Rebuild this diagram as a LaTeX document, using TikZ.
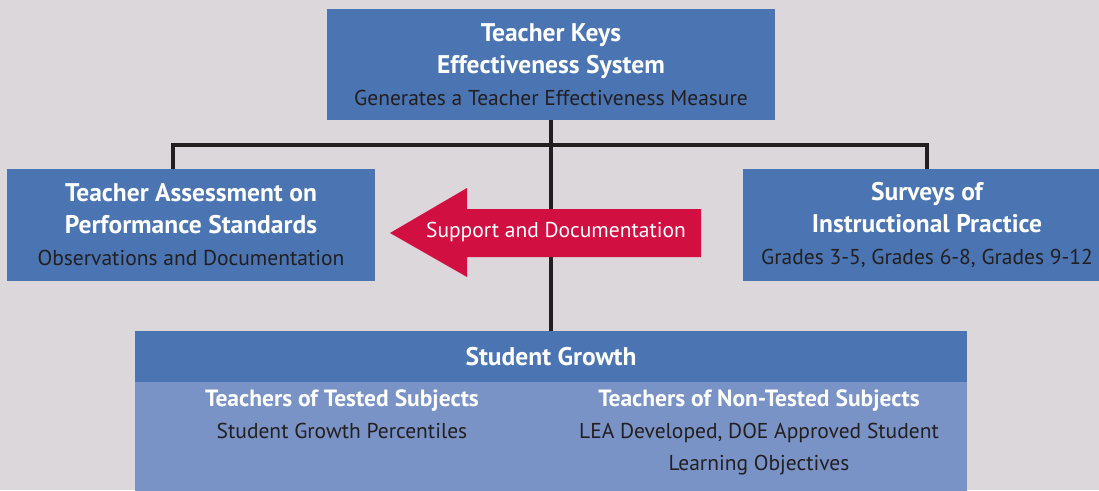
\documentclass[tikz,border=0pt]{standalone}
\usepackage{fontspec}
\setmainfont{PT Sans}
\usetikzlibrary{positioning}
\definecolor{bg}{HTML}{DCD7DA}
\definecolor{keyblue}{HTML}{4A74B2}
\definecolor{paleblue}{HTML}{7A93C6}
\definecolor{docred}{HTML}{D20F41}
\definecolor{ink}{HTML}{231F20}
\newcommand\boxhead[1]{{\color{white}\fontsize{25.5}{32}\selectfont\bfseries #1}}
\newcommand\colhead[1]{{\color{white}\fontsize{23.5}{32}\selectfont\bfseries #1}}

\begin{document}
\begin{tikzpicture}[x=1pt,y=-1pt,
    box/.style={fill=keyblue,inner sep=0pt,align=center,text=ink,
      font=\fontsize{21.5}{32}\selectfont},
    col/.style={inner sep=0pt,align=center,text=ink,anchor=north,
      font=\fontsize{21.5}{32}\selectfont},
    link/.style={ink,line width=4pt}]
    \useasboundingbox (0,0) rectangle (1099,490);
    \clip (0,0) rectangle (1099,490);
    \fill[bg] (0,0) rectangle (1099,490);

    % boxes
    \node[box,minimum width=448pt,minimum height=111pt] (keys) at (551,64.5)
      {\boxhead{Teacher Keys}\\\boxhead{Effectiveness System}\\Generates a Teacher Effectiveness Measure};
    \node[box,minimum width=368pt,minimum height=112pt] (taps) at (191,225)
      {\boxhead{Teacher Assessment on}\\\boxhead{Performance Standards}\\Observations and Documentation};
    \node[box,minimum width=368pt,minimum height=112pt] (surveys) at (927,225)
      {\boxhead{Surveys of}\\\boxhead{Instructional Practice}\\Grades 3-5, Grades 6-8, Grades 9-12};
    \node[box,minimum width=832pt,minimum height=51pt] (growth) at (551,356.5)
      {\boxhead{Student Growth}};
    \node[fill=paleblue,inner sep=0pt,minimum width=832pt,minimum height=130pt,
      below=0pt of growth] (growthbody) {};
    \node[col] (tested) at (342,390)
      {\colhead{Teachers of Tested Subjects}\\Student Growth Percentiles};
    \node[col] (nontested) at (759,390)
      {\colhead{Teachers of Non-Tested Subjects}\\LEA Developed, DOE Approved Student\\Learning Objectives};

    % connectors
    \coordinate (busL) at (173,145);
    \coordinate (busR) at (927,145);
    \draw[link] (taps.north -| busL) -- (busL) -- (busR) -- (surveys.north -| busR);
    \draw[link] (keys) -- (growth);

    % arrow
    \fill[docred] (390,233) -- (467,188) -- (467,209) -- (701,209) -- (701,257)
      -- (467,257) -- (467,277) -- cycle;
    \node[text=white,font=\fontsize{21.5}{32}\selectfont,inner sep=0pt] (support) at (556,232)
      {Support and Documentation};
\end{tikzpicture}
\end{document}
